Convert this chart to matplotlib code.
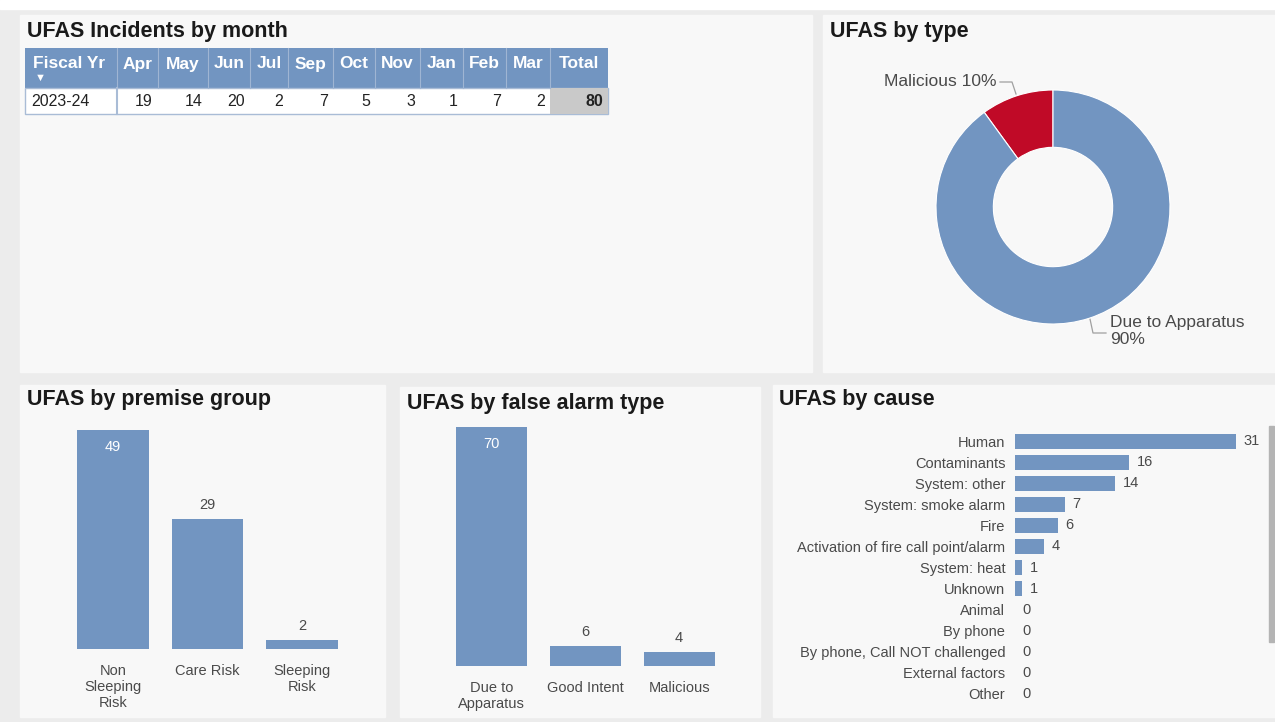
import numpy as np
import matplotlib
matplotlib.use("Agg")
import matplotlib.pyplot as plt
from matplotlib.patches import Rectangle

plt.rcParams['font.family'] = ['Liberation Sans', 'DejaVu Sans']

# ---------------- data ----------------
months = ['Apr', 'May', 'Jun', 'Jul', 'Sep', 'Oct', 'Nov', 'Jan', 'Feb', 'Mar']
month_counts = [19, 14, 20, 2, 7, 5, 3, 1, 7, 2]
fiscal_year = '2023-24'

type_labels = ['Malicious', 'Due to Apparatus']
type_pct = [10, 90]

premise_groups = ['Non\nSleeping\nRisk', 'Care Risk', 'Sleeping\nRisk']
premise_counts = [49, 29, 2]

alarm_types = ['Due to\nApparatus', 'Good Intent', 'Malicious']
alarm_counts = [70, 6, 4]

causes = ['Human', 'Contaminants', 'System: other', 'System: smoke alarm', 'Fire',
          'Activation of fire call point/alarm', 'System: heat', 'Unknown', 'Animal',
          'By phone', 'By phone, Call NOT challenged', 'External factors', 'Other']
cause_counts = [31, 16, 14, 7, 6, 4, 1, 1, 0, 0, 0, 0, 0]

# ---------------- style ----------------
W, H = 1275, 722
BLUE = '#7295c1'
RED = '#c00a27'
PANEL = '#f8f8f8'
GAP = '#ececec'
TXT = '#4a4a4a'
TITLE = '#1a1a1a'

fig = plt.figure(figsize=(W / 100, H / 100), dpi=100)
fig.patch.set_facecolor(GAP)


def px_axes(x0, y0, x1, y1, **kw):
    # axes from pixel box (top-left origin)
    return fig.add_axes([x0 / W, 1 - y1 / H, (x1 - x0) / W, (y1 - y0) / H], **kw)


# background layer: panels, titles, table
bg = px_axes(0, 0, W, H)
bg.set_xlim(0, W)
bg.set_ylim(H, 0)
bg.axis('off')
bg.add_patch(Rectangle((0, 0), W, 9, color='white'))

panels = [(20, 15, 812, 372), (823, 15, 1275, 372),
          (20, 385, 385, 717), (400, 387, 760, 717), (773, 385, 1275, 717)]
for x0, y0, x1, y1 in panels:
    bg.add_patch(Rectangle((x0, y0), x1 - x0, y1 - y0, color=PANEL))

titles = [('UFAS Incidents by month', 27, 32), ('UFAS by type', 830, 32),
          ('UFAS by premise group', 27, 400), ('UFAS by false alarm type', 407, 403),
          ('UFAS by cause', 779, 400)]
for t, x, y in titles:
    bg.text(x, y, t, fontsize=15.5, fontweight='bold', color=TITLE, va='center', ha='left')

# scrollbar on cause panel
bg.add_patch(Rectangle((1269, 426), 5, 216, color='#b4b4b4'))

# ---------------- table ----------------
col_edges = [25, 117, 158, 208, 250, 288, 333, 375, 420, 463, 506, 550, 608]
head_top, head_bot, row_bot = 48, 88, 114
HEAD = '#7295c1'
bg.add_patch(Rectangle((col_edges[0], head_top), col_edges[-1] - col_edges[0],
                       head_bot - head_top, facecolor=HEAD, edgecolor='none'))
bg.add_patch(Rectangle((col_edges[0], head_bot), col_edges[-1] - col_edges[0],
                       row_bot - head_bot, facecolor='white', edgecolor='#a9bcd6', lw=1))
bg.add_patch(Rectangle((col_edges[-2], head_bot), col_edges[-1] - col_edges[-2],
                       row_bot - head_bot, facecolor='#c9c9c9', edgecolor='none'))
for xe in col_edges[1:-1]:
    bg.plot([xe, xe], [head_top, head_bot], color='#9fb5d3', lw=0.8)
bg.plot([col_edges[1], col_edges[1]], [head_bot, row_bot], color='#a9bcd6', lw=1.5)

headers = ['Fiscal Yr'] + months + ['Total']
values = [str(v) for v in month_counts] + [str(sum(month_counts))]
bg.text(col_edges[0] + 8, 64, headers[0], color='white', fontsize=12.5,
        fontweight='bold', ha='left', va='center')
bg.text(col_edges[0] + 15, 78, '\u25bc', color='white', fontsize=8, ha='center', va='center')
for i, h in enumerate(headers[1:]):
    xc = (col_edges[i + 1] + col_edges[i + 2]) / 2
    bg.text(xc, 64, h, color='white', fontsize=12.5, fontweight='bold',
            ha='center', va='center')
bg.text(col_edges[0] + 6, 101, fiscal_year, color='#222', fontsize=11.5,
        ha='left', va='center')
for i, v in enumerate(values):
    bold = 'bold' if i == len(values) - 1 else 'normal'
    bg.text(col_edges[i + 2] - 5, 101, v, color='#222', fontsize=11.5,
            fontweight=bold, ha='right', va='center')

# ---------------- donut ----------------
cx, cy, r = 1053, 207, 117
ax_d = px_axes(cx - 1.25 * r, cy - 1.25 * r, cx + 1.25 * r, cy + 1.25 * r)
ax_d.pie(type_pct, colors=[RED, BLUE], startangle=90, counterclock=True,
         wedgeprops=dict(width=0.49, edgecolor='white', linewidth=0.8))
ax_d.set_xlim(-1.25, 1.25)
ax_d.set_ylim(-1.25, 1.25)
ax_d.set_aspect('equal')
ax_d.axis('off')

# leader lines and labels (pixel layer)
bg.plot([1000, 1012, 1016], [82, 82, 94], color='#a0a0a0', lw=0.9)
bg.text(996, 81, f'{type_labels[0]} {type_pct[0]}%', color=TXT, fontsize=12.5,
        ha='right', va='center')
bg.plot([1090, 1093, 1106], [319, 333, 333], color='#a0a0a0', lw=0.9)
bg.text(1110, 331, f'{type_labels[1]}\n{type_pct[1]}%', color=TXT, fontsize=12.5,
        ha='left', va='center', linespacing=1.1)


# ---------------- vertical bar charts ----------------
def vbar(ax, cats, vals, ymax, inside_first=True):
    x = np.arange(len(cats))
    bars = ax.bar(x, vals, width=0.76, color=BLUE, edgecolor='none')
    ax.set_xlim(-0.5, len(cats) - 0.5)
    ax.set_ylim(0, ymax)
    ax.set_facecolor('none')
    for s in ax.spines.values():
        s.set_visible(False)
    ax.set_yticks([])
    ax.set_xticks(x)
    ax.set_xticklabels(cats, fontsize=10.5, color=TXT, linespacing=1.15)
    ax.tick_params(axis='x', length=0, pad=11)
    for i, (b, v) in enumerate(zip(bars, vals)):
        if i == 0 and inside_first:
            ax.annotate(str(v), (b.get_x() + b.get_width() / 2, v), xytext=(0, -7),
                        textcoords='offset points', ha='center', va='top',
                        color='white', fontsize=10.5)
        else:
            ax.annotate(str(v), (b.get_x() + b.get_width() / 2, v), xytext=(0, 5),
                        textcoords='offset points', ha='center', va='bottom',
                        color=TXT, fontsize=10.5)


# premise group: centres 113..302, baseline y=649, 4.47 px per unit
ax_p = px_axes(66, 420, 349, 649)
vbar(ax_p, premise_groups, premise_counts, ymax=229 / 4.47)

# false alarm type: centres 492..679, baseline y=666, 3.414 px per unit
ax_f = px_axes(445, 420, 726, 666)
vbar(ax_f, alarm_types, alarm_counts, ymax=246 / 3.414)

# ---------------- horizontal bar chart ----------------
ax_c = px_axes(1015, 430.5, 1265, 704.5)
y = np.arange(len(causes))
hb = ax_c.barh(y, cause_counts, height=0.71, color=BLUE, edgecolor='none')
ax_c.set_ylim(len(causes) - 0.5, -0.5)
ax_c.set_xlim(0, 250 / 7.13)
ax_c.set_facecolor('none')
for s in ax_c.spines.values():
    s.set_visible(False)
ax_c.set_xticks([])
ax_c.set_yticks(y)
ax_c.set_yticklabels(causes, fontsize=10.5, color=TXT)
ax_c.tick_params(axis='y', length=0, pad=7)
for b, v in zip(hb, cause_counts):
    ax_c.annotate(str(v), (v, b.get_y() + b.get_height() / 2), xytext=(5.5, 0),
                  textcoords='offset points', ha='left', va='center',
                  color=TXT, fontsize=10.5)

fig.savefig('out.png', dpi=100, facecolor=fig.get_facecolor())
